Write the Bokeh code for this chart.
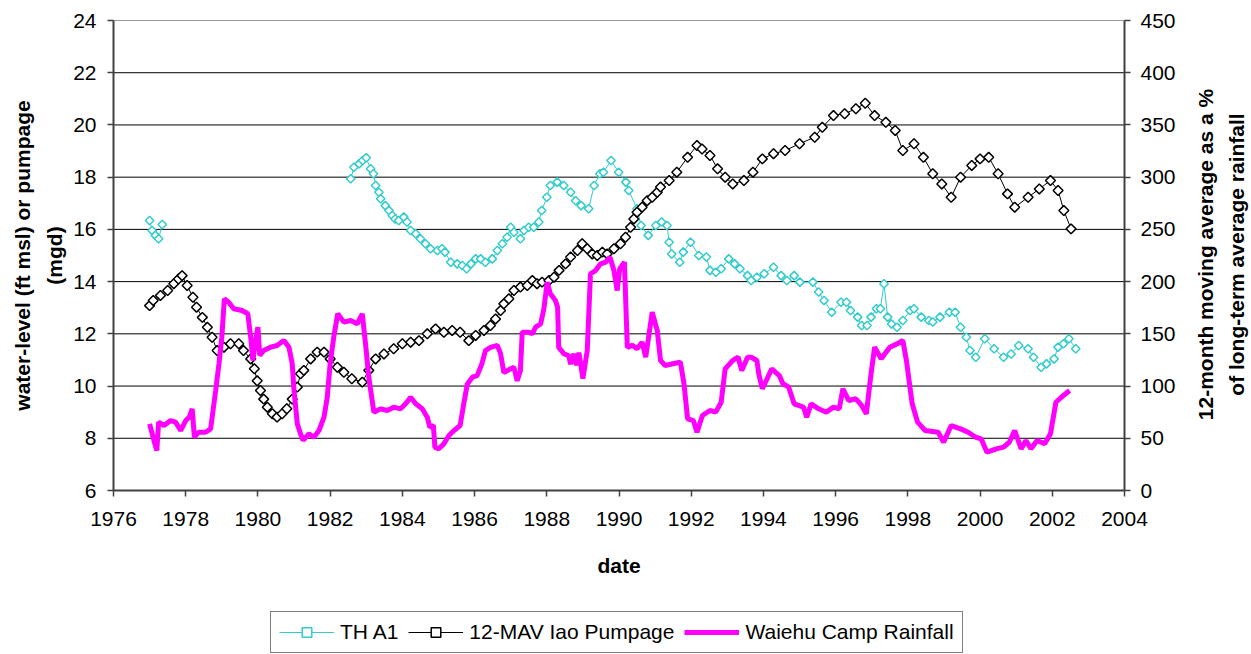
import math
from bokeh.plotting import figure
from bokeh.models import Range1d, LinearAxis, FixedTicker, Legend, LegendItem
from bokeh.core.properties import value
from bokeh.embed import file_html
from bokeh.resources import INLINE

NaN = float("nan")

# ---- TH A1 water level (ft msl) ----
tha1_year = [1977.0, 1977.07, 1977.16, 1977.25, 1977.35, 1980.0,
             1982.57, 1982.66, 1982.8, 1982.9, 1983.0, 1983.12, 1983.2, 1983.26, 1983.35, 1983.4,
             1983.53, 1983.63, 1983.72, 1983.8, 1983.9, 1984.04, 1984.13, 1984.23, 1984.37, 1984.5,
             1984.64, 1984.78, 1984.97, 1985.1, 1985.18, 1985.34, 1985.52, 1985.66, 1985.78, 1985.9,
             1986.03, 1986.17, 1986.3, 1986.49, 1986.63, 1986.77, 1986.9, 1987.0, 1987.09, 1987.27,
             1987.37, 1987.5, 1987.64, 1987.78, 1987.86, 1988.0, 1988.1, 1988.29, 1988.47, 1988.66,
             1988.8, 1988.95, 1989.16, 1989.31, 1989.47, 1989.57, 1989.78, 1989.99, 1990.19, 1990.27,
             1990.5, 1990.61, 1990.81, 1991.02, 1991.18, 1991.33, 1991.39, 1991.46, 1991.68, 1991.78,
             1991.98, 1992.21, 1992.42, 1992.52, 1992.68, 1992.83, 1993.04, 1993.2, 1993.35, 1993.56,
             1993.66, 1993.82, 1994.02, 1994.28, 1994.49, 1994.65, 1994.85, 1995.01, 1995.37, 1995.53,
             1995.68, 1995.89, 1996.15, 1996.3, 1996.41, 1996.61, 1996.72, 1996.87, 1996.98, 1997.13,
             1997.24, 1997.34, 1997.44, 1997.55, 1997.7, 1997.86, 1998.06, 1998.17, 1998.37, 1998.58,
             1998.69, 1998.89, 1999.15, 1999.31, 1999.46, 1999.62, 1999.72, 1999.88, 2000.13, 2000.39,
             2000.65, 2000.86, 2001.07, 2001.33, 2001.48, 2001.69, 2001.84, 2002.05, 2002.16, 2002.31,
             2002.46, 2002.65]
tha1_level = [16.34, 15.96, 15.77, 15.64, 16.19, NaN,
              17.94, 18.38, 18.51, 18.64, 18.74, 18.32, 18.13, 17.68, 17.42, 17.17,
              16.91, 16.72, 16.53, 16.40, 16.34, 16.47, 16.28, 15.96, 15.83, 15.64,
              15.45, 15.26, 15.19, 15.26, 15.13, 14.74, 14.68, 14.62, 14.49, 14.68,
              14.87, 14.87, 14.74, 14.87, 15.19, 15.45, 15.70, 16.08, 15.89, 15.64,
              15.96, 16.08, 16.08, 16.28, 16.72, 17.23, 17.68, 17.81, 17.68, 17.42,
              17.10, 16.91, 16.79, 17.68, 18.13, 18.19, 18.64, 18.19, 17.81, 17.49,
              16.79, 16.15, 15.77, 16.15, 16.28, 16.15, 15.51, 15.06, 14.74, 15.13,
              15.51, 15.00, 14.94, 14.43, 14.36, 14.49, 14.87, 14.68, 14.49, 14.23,
              14.04, 14.17, 14.30, 14.55, 14.23, 14.04, 14.23, 13.98, 13.98, 13.60,
              13.28, 12.83, 13.21, 13.21, 12.89, 12.64, 12.32, 12.32, 12.64, 12.96,
              12.96, 13.92, 12.64, 12.38, 12.25, 12.51, 12.89, 12.96, 12.64, 12.51,
              12.45, 12.64, 12.83, 12.83, 12.25, 11.87, 11.36, 11.10, 11.81, 11.43,
              11.10, 11.23, 11.55, 11.43, 11.10, 10.72, 10.85, 11.04, 11.49, 11.62,
              11.81, 11.43]

# ---- 12-month moving average Iao pumpage (mgd) ----
pump_year = [1977.0, 1977.1, 1977.3, 1977.5, 1977.67, 1977.8, 1977.9, 1978.04, 1978.2, 1978.3,
             1978.46, 1978.6, 1978.73, 1978.87, 1979.06, 1979.24, 1979.47, 1979.6, 1979.8, 1979.9,
             1979.98, 1980.07, 1980.16, 1980.26, 1980.4, 1980.53, 1980.67, 1980.8, 1980.95, 1981.09,
             1981.18, 1981.27, 1981.46, 1981.64, 1981.83, 1982.0, 1982.2, 1982.38, 1982.6, 1982.89,
             1983.07, 1983.26, 1983.49, 1983.76, 1984.0, 1984.23, 1984.46, 1984.69, 1984.92, 1985.15,
             1985.38, 1985.6, 1985.84, 1986.03, 1986.26, 1986.44, 1986.58, 1986.72, 1986.81, 1986.95,
             1987.09, 1987.27, 1987.46, 1987.6, 1987.73, 1987.87, 1988.06, 1988.2, 1988.34, 1988.52,
             1988.66, 1988.85, 1988.98, 1989.12, 1989.26, 1989.4, 1989.54, 1989.67, 1989.86, 1990.04,
             1990.18, 1990.32, 1990.41, 1990.5, 1990.64, 1990.78, 1990.92, 1991.06, 1991.15, 1991.39,
             1991.6, 1991.9, 1992.16, 1992.3, 1992.52, 1992.73, 1992.94, 1993.15, 1993.46, 1993.71,
             1993.97, 1994.28, 1994.6, 1995.0, 1995.42, 1995.63, 1995.94, 1996.25, 1996.56, 1996.82,
             1997.08, 1997.39, 1997.65, 1997.86, 1998.17, 1998.43, 1998.69, 1998.94, 1999.2, 1999.46,
             1999.77, 2000.0, 2000.24, 2000.5, 2000.76, 2000.96, 2001.33, 2001.64, 2001.95, 2002.16,
             2002.32, 2002.52]
pump_mgd = [13.08, 13.28, 13.47, 13.66, 13.92, 14.10, 14.23, 13.85, 13.40, 13.02,
            12.63, 12.25, 11.87, 11.36, 11.49, 11.62, 11.62, 11.36, 11.04, 10.66,
            10.20, 9.83, 9.50, 9.19, 8.94, 8.81, 8.94, 9.13, 9.50, 9.96,
            10.47, 10.60, 11.04, 11.30, 11.30, 11.04, 10.72, 10.53, 10.28, 10.15,
            10.60, 11.04, 11.23, 11.43, 11.62, 11.68, 11.74, 12.00, 12.19, 12.06,
            12.13, 12.06, 11.74, 11.94, 12.13, 12.32, 12.57, 12.89, 13.15, 13.34,
            13.66, 13.79, 13.85, 14.04, 13.92, 13.98, 14.04, 14.17, 14.43, 14.68,
            14.94, 15.19, 15.45, 15.26, 15.06, 15.00, 15.13, 15.06, 15.26, 15.45,
            15.70, 16.08, 16.40, 16.66, 16.85, 17.10, 17.23, 17.42, 17.62, 17.87,
            18.19, 18.76, 19.21, 19.08, 18.83, 18.32, 18.00, 17.74, 17.87, 18.19,
            18.70, 18.90, 19.02, 19.28, 19.53, 19.91, 20.36, 20.43, 20.62, 20.83,
            20.36, 20.10, 19.79, 19.02, 19.28, 18.76, 18.13, 17.74, 17.23, 18.00,
            18.45, 18.70, 18.76, 18.13, 17.36, 16.85, 17.23, 17.55, 17.87, 17.49,
            16.72, 16.02]

# ---- Waiehu Camp rainfall, 12-month moving average as % of long-term average ----
rain_year = [1977.0, 1977.12, 1977.2, 1977.25, 1977.4, 1977.58, 1977.72, 1977.86, 1978.0, 1978.1,
             1978.18, 1978.24, 1978.36, 1978.55, 1978.69, 1978.83, 1978.92, 1979.0, 1979.07, 1979.19,
             1979.33, 1979.56, 1979.72, 1979.8, 1979.86, 1979.95, 1980.0, 1980.05, 1980.16, 1980.35,
             1980.53, 1980.72, 1980.86, 1980.95, 1981.0, 1981.09, 1981.18, 1981.25, 1981.41, 1981.55,
             1981.69, 1981.83, 1981.92, 1982.0, 1982.1, 1982.21, 1982.38, 1982.57, 1982.75, 1982.89,
             1982.98, 1983.07, 1983.21, 1983.4, 1983.58, 1983.76, 1983.95, 1984.09, 1984.23, 1984.37,
             1984.55, 1984.69, 1984.76, 1984.86, 1984.9, 1985.0, 1985.15, 1985.29, 1985.43, 1985.6,
             1985.7, 1985.8, 1985.94, 1986.07, 1986.2, 1986.3, 1986.44, 1986.63, 1986.72, 1986.81,
             1987.0, 1987.09, 1987.18, 1987.27, 1987.32, 1987.5, 1987.6, 1987.69, 1987.83, 1987.92,
             1988.01, 1988.1, 1988.24, 1988.3, 1988.33, 1988.47, 1988.61, 1988.66, 1988.75, 1988.82,
             1988.89, 1989.0, 1989.12, 1989.21, 1989.35, 1989.49, 1989.63, 1989.75, 1989.86, 1989.95,
             1990.02, 1990.15, 1990.23, 1990.37, 1990.5, 1990.64, 1990.74, 1990.92, 1991.06, 1991.15,
             1991.28, 1991.49, 1991.7, 1991.8, 1991.9, 1992.06, 1992.16, 1992.31, 1992.52, 1992.68,
             1992.83, 1992.94, 1993.15, 1993.3, 1993.4, 1993.56, 1993.66, 1993.82, 1993.87, 1993.97,
             1994.08, 1994.23, 1994.44, 1994.54, 1994.7, 1994.85, 1995.11, 1995.2, 1995.32, 1995.53,
             1995.74, 1995.94, 1996.1, 1996.2, 1996.36, 1996.56, 1996.72, 1996.85, 1996.98, 1997.08,
             1997.26, 1997.5, 1997.7, 1997.86, 1997.96, 1998.12, 1998.27, 1998.48, 1998.84, 1998.99,
             1999.2, 1999.46, 1999.67, 1999.88, 2000.03, 2000.19, 2000.45, 2000.65, 2000.81, 2000.96,
             2001.14, 2001.27, 2001.41, 2001.58, 2001.79, 2001.95, 2002.1, 2002.31, 2002.48]
rain_pct = [63.8, 47.9, 38.3, 65.4, 62.2, 67.0, 65.4, 57.4, 67.0, 70.2,
            78.2, 51.0, 55.8, 55.8, 59.0, 95.7, 121.0, 146.8, 183.5, 180.3,
            174.0, 172.3, 169.2, 146.8, 124.5, 146.8, 156.4, 129.3, 134.0, 137.2,
            138.8, 143.6, 137.2, 121.3, 95.7, 63.8, 54.3, 47.9, 54.3, 51.0,
            57.4, 70.2, 89.3, 121.3, 146.8, 169.2, 161.2, 162.8, 159.6, 169.2,
            140.4, 108.5, 75.0, 78.2, 76.6, 79.8, 78.2, 83.0, 89.3, 83.0,
            78.2, 70.2, 60.6, 62.2, 41.5, 39.9, 44.7, 52.7, 57.4, 62.2,
            83.0, 102.0, 108.5, 110.0, 121.0, 134.0, 137.0, 139.0, 131.0, 113.0,
            116.5, 118.0, 105.0, 115.0, 151.6, 151.6, 150.0, 156.4, 159.6, 174.0,
            199.4, 188.3, 182.0, 175.5, 137.0, 131.0, 129.0, 121.0, 131.0, 120.0,
            132.0, 107.0, 134.0, 207.5, 210.6, 217.0, 218.6, 223.4, 210.6, 191.5,
            212.3, 218.6, 137.0, 139.0, 135.7, 142.0, 127.6, 170.7, 153.0, 124.5,
            119.7, 121.3, 122.9, 102.2, 68.7, 67.0, 55.8, 71.8, 76.6, 75.0,
            84.5, 116.5, 124.5, 127.6, 114.9, 127.6, 127.6, 124.5, 111.7, 97.4,
            105.3, 116.5, 110.1, 102.2, 98.9, 83.0, 79.8, 70.2, 83.0, 78.2,
            75.0, 79.8, 78.2, 97.4, 86.2, 87.8, 81.4, 73.4, 111.7, 137.2,
            126.1, 137.2, 140.4, 143.6, 124.5, 83.0, 65.4, 57.4, 55.8, 46.2,
            62.2, 59.0, 55.8, 51.0, 49.5, 36.7, 39.9, 41.5, 46.2, 57.4,
            39.9, 47.9, 39.9, 47.9, 44.7, 54.3, 84.5, 91.0, 95.7]

left_ticks = list(range(6, 25, 2))
grid_ticks = list(range(8, 23, 2))
right_ticks = list(range(0, 451, 50))
x_ticks = list(range(1976, 2005, 2))
x_title = "date"
left_title = ["water-level (ft msl) or pumpage", "(mgd)"]
right_title = ["12-month moving average as a %", "of long-term average rainfall"]

FONT = "Liberation Sans"
CYAN = "#33CCCC"
MAGENTA = "#FF00FF"
AXIS_GRAY = "#404040"

# ---- layout: the frame fills the whole page; the chart box sits inside it ----
PAGE_W, PAGE_H = 1251, 654
BOX_L, BOX_R, BOX_T, BOX_B = 113, 1124, 20, 490
X_LO, X_HI = 1976, 2004
Y_LO, Y_HI = 6, 24
R_LO, R_HI = 0, 450
px_per_x = (BOX_R - BOX_L) / (X_HI - X_LO)
px_per_y = (BOX_B - BOX_T) / (Y_HI - Y_LO)
px_per_r = (BOX_B - BOX_T) / (R_HI - R_LO)

x_range = Range1d(X_LO - BOX_L / px_per_x, X_HI + (PAGE_W - BOX_R) / px_per_x)
y_range = Range1d(Y_LO - (PAGE_H - BOX_B) / px_per_y, Y_HI + BOX_T / px_per_y)
r_range = Range1d(R_LO - (PAGE_H - BOX_B) / px_per_r, R_HI + BOX_T / px_per_r)

def page_x(px):
    return x_range.start + px / px_per_x

def page_y(py):
    return y_range.end - py / px_per_y

p = figure(frame_width=PAGE_W, frame_height=PAGE_H,
           min_border_left=0, min_border_right=0, min_border_top=0, min_border_bottom=0,
           x_range=x_range, y_range=y_range,
           output_backend="svg", toolbar_location=None)
p.extra_y_ranges = {"rain": r_range}

p.background_fill_color = "white"
p.border_fill_color = "white"
p.outline_line_color = None
p.grid.visible = False

# horizontal gridlines across the chart box, and its grey top edge
p.segment(x0=[X_LO] * len(grid_ticks), x1=[X_HI] * len(grid_ticks), y0=grid_ticks, y1=grid_ticks,
          line_color="black", line_width=1)
p.segment(x0=[X_LO], x1=[X_HI], y0=[Y_HI], y1=[Y_HI], line_color="#999999", line_width=1)

def style_axis(ax):
    ax.axis_line_color = AXIS_GRAY
    ax.axis_line_width = 2
    ax.major_tick_line_color = AXIS_GRAY
    ax.major_tick_line_width = 1.5
    ax.major_tick_out = 6
    ax.major_tick_in = 0
    ax.minor_tick_line_color = None
    ax.major_label_text_font = FONT
    ax.major_label_text_font_size = "21px"
    ax.major_label_text_color = "black"

xa = p.xaxis[0]
xa.ticker = FixedTicker(ticks=x_ticks)
xa.fixed_location = Y_LO
xa.bounds = (X_LO, X_HI)
style_axis(xa)
xa.major_label_standoff = 15

ya = p.yaxis[0]
ya.ticker = FixedTicker(ticks=left_ticks)
ya.fixed_location = X_LO
ya.bounds = (Y_LO, Y_HI)
style_axis(ya)
ya.major_label_standoff = 11

ra = LinearAxis(y_range_name="rain", ticker=FixedTicker(ticks=right_ticks),
                fixed_location=X_HI, bounds=(R_LO, R_HI))
style_axis(ra)
ra.major_label_standoff = 10
p.add_layout(ra, "right")

c_line = p.line(tha1_year, tha1_level, line_color=CYAN, line_width=1)
c_pts = p.scatter(tha1_year, tha1_level, marker="square", angle=math.pi / 4, size=6,
                  line_color=CYAN, line_width=1.5, fill_color="white")

b_line = p.line(pump_year, pump_mgd, line_color="black", line_width=1)
b_pts = p.scatter(pump_year, pump_mgd, marker="square", angle=math.pi / 4, size=7,
                  line_color="black", line_width=1.5, fill_color="white")

m_line = p.line(rain_year, rain_pct, y_range_name="rain", line_color=MAGENTA, line_width=5)

# axis titles
title_style = dict(text_font=value(FONT), text_font_size="21px", text_font_style="bold",
                   text_color="black")
p.text(x=[(X_LO + X_HI) / 2], y=[page_y(565)], text=[x_title],
       text_align="center", text_baseline="middle", **title_style)
p.text(x=[page_x(22), page_x(54)], y=[page_y(255)] * 2, text=left_title,
       angle=math.pi / 2, text_align="center", text_baseline="alphabetic", **title_style)
p.text(x=[page_x(1205), page_x(1236)], y=[page_y(254)] * 2, text=right_title,
       angle=math.pi / 2, text_align="center", text_baseline="alphabetic", **title_style)

legend = Legend(items=[
    LegendItem(label="TH A1", renderers=[c_line, c_pts]),
    LegendItem(label="12-MAV Iao Pumpage", renderers=[b_line, b_pts]),
    LegendItem(label="Waiehu Camp Rainfall", renderers=[m_line]),
], orientation="horizontal", location=(270, 1))
legend.label_text_font = FONT
legend.label_text_font_size = "21px"
legend.label_text_color = "black"
legend.glyph_width = 55
legend.glyph_height = 24
legend.label_standoff = 6
legend.spacing = 10
legend.padding = 8
legend.margin = 0
legend.border_line_color = "black"
legend.border_line_width = 1
legend.background_fill_color = "white"
legend.background_fill_alpha = 1
p.add_layout(legend)

open("out.html", "w").write(file_html(p, INLINE))
